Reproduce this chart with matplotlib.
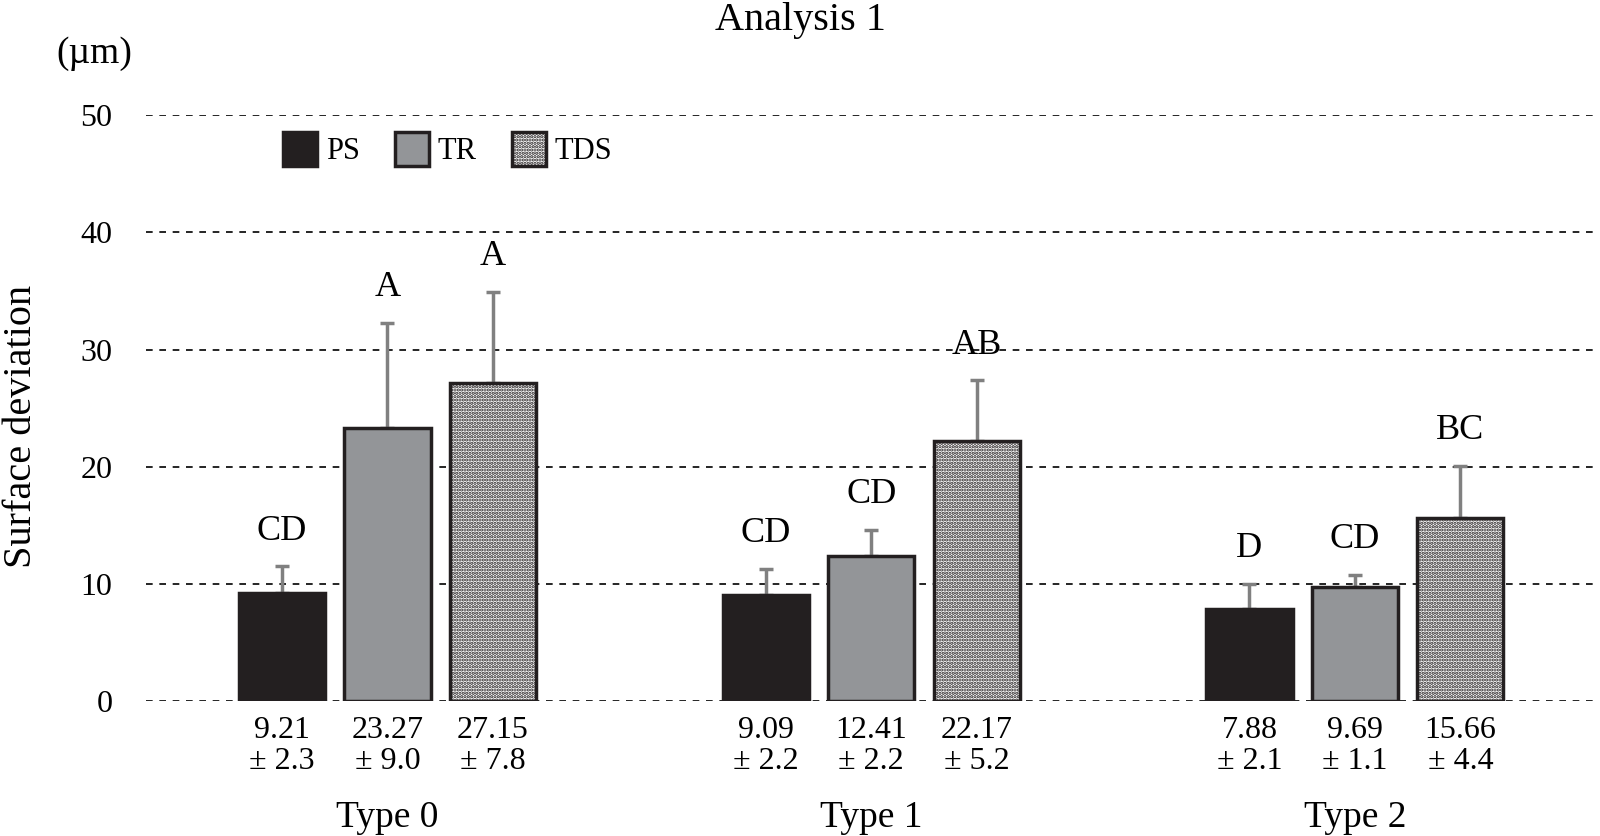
import matplotlib.pyplot as plt
import matplotlib.transforms as mtransforms
import numpy as np

plt.rcParams['font.family'] = ['Liberation Serif', 'DejaVu Serif']
plt.rcParams['hatch.linewidth'] = 1.6

types = ['Type 0', 'Type 1', 'Type 2']
series = ['PS', 'TR', 'TDS']
ps_mean = [9.21, 9.09, 7.88]
tr_mean = [23.27, 12.41, 9.69]
tds_mean = [27.15, 22.17, 15.66]
ps_sd = [2.3, 2.2, 2.1]
tr_sd = [9.0, 2.2, 1.1]
tds_sd = [7.8, 5.2, 4.4]
ps_letters = ['CD', 'CD', 'D']
tr_letters = ['A', 'CD', 'CD']
tds_letters = ['A', 'AB', 'BC']

means = [ps_mean, tr_mean, tds_mean]
sds = [ps_sd, tr_sd, tds_sd]
letters = [ps_letters, tr_letters, tds_letters]
colors = ['#231f20', '#939598', 'white']
hatches = [None, None, '.....']

fig = plt.figure(figsize=(16, 8.36), dpi=100)
ax = fig.add_axes([0.091, 0.1615, 0.907, 0.7005])

x = np.arange(len(types))
w = 0.178
off = 0.218
trans = mtransforms.blended_transform_factory(ax.transData, ax.transAxes)

for i in range(3):
    xi = x + (i - 1) * off
    ax.bar(xi, means[i], w, color=colors[i], edgecolor='#231f20',
           linewidth=2.5, hatch=hatches[i], label=series[i], zorder=3)
    ax.errorbar(xi, means[i], yerr=[np.zeros(3), sds[i]], fmt='none',
                ecolor='#808080', elinewidth=2.5, capsize=5, capthick=2.5, zorder=2)
    for j in range(3):
        top = means[i][j] + sds[i][j]
        ax.text(xi[j], top + 3.0, letters[i][j], ha='center', va='center', fontsize=26)
        ax.text(xi[j], -0.05, f'{means[i][j]:.2f}', ha='center', va='center',
                fontsize=23, transform=trans)
        ax.text(xi[j], -0.104, f'± {sds[i][j]:.1f}', ha='center', va='center',
                fontsize=23, transform=trans)

for j in range(3):
    ax.text(x[j], -0.2, types[j], ha='center', va='center', fontsize=27, transform=trans)

ax.set_xlim(-0.5, 2.5)
ax.set_ylim(0, 50)
ax.set_yticks([0, 10, 20, 30, 40, 50])
ax.yaxis.grid(True, linestyle=(0, (4, 4)), color='black', linewidth=1.2, zorder=0)
ax.set_axisbelow(True)
ax.set_xticks([])
ax.tick_params(axis='y', length=0, labelsize=23, pad=24)
for s in ax.spines.values():
    s.set_visible(False)

fig.text(0.0135, 0.49, 'Surface deviation', rotation=90, ha='center', va='center', fontsize=29)
ax.text(-0.035, 1.105, '(µm)', transform=ax.transAxes, ha='center', va='center', fontsize=27)
fig.text(0.5, 0.975, 'Analysis 1', ha='center', va='center', fontsize=29)

ax.legend(loc='center left', bbox_to_anchor=(0.076, 0.942), ncol=3, frameon=False,
          fontsize=22, handlelength=1.1, handleheight=1.3, handletextpad=0.3,
          columnspacing=1.15)

fig.savefig('out.png', dpi=100)
